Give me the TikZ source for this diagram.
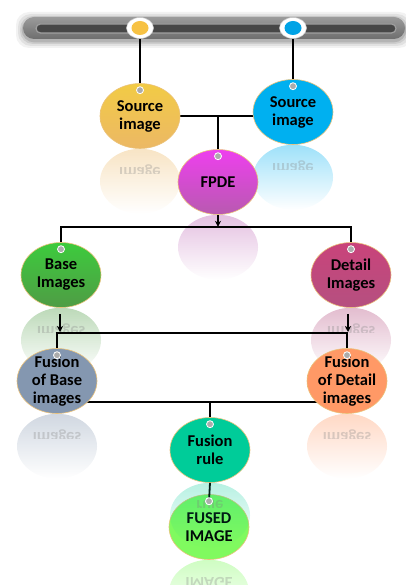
\documentclass[tikz,border=0pt]{standalone}
\usepackage{fontspec}
\setmainfont{Carlito}
\usetikzlibrary{shapes.geometric,arrows.meta,fadings,calc}

\definecolor{srcAtop}{HTML}{F2CB45}
\definecolor{srcAbot}{HTML}{ECB865}
\definecolor{srcB}{HTML}{00B0F0}
\definecolor{fpdeTop}{HTML}{EE3FEE}
\definecolor{fpdeBot}{HTML}{B85AB0}
\definecolor{baseTop}{HTML}{3DCB3D}
\definecolor{baseBot}{HTML}{4F9C45}
\definecolor{detTop}{HTML}{C9437A}
\definecolor{detBot}{HTML}{B55080}
\definecolor{fbaseCol}{HTML}{8497B0}
\definecolor{fdetCol}{HTML}{FF9966}
\definecolor{ruleCol}{HTML}{00CC99}
\definecolor{fusedCol}{HTML}{80FA5F}
\definecolor{rim}{HTML}{EBC27A}
\definecolor{railA}{HTML}{9B9B9B}
\definecolor{railB}{HTML}{4F4F4F}
\definecolor{railC}{HTML}{6E6E6E}
\definecolor{pinYellow}{HTML}{F7C244}
\definecolor{pinBlue}{HTML}{00A3E6}

\tikzfading[name=reflfade, top color=transparent!62, middle color=transparent!100, bottom color=transparent!100]

\pgfdeclarelayer{back}
\pgfdeclarelayer{front}
\pgfsetlayers{back,main,front}

% a coloured disc with its text and the small hanging hole
\newcommand\Bubble[5]{%
  \node[bubble, top color=#3, bottom color=#4] (#1) at (#2) {};
  \node[bubtext] (#1-t) at (#1.center) {#5};
  \node[hole] (#1-h) at ([yshift=-7pt]#1.north) {};}

% faded mirror image under a disc
\newcommand\Mirror[3]{%
  \fill[#2, path fading=reflfade] ($(#1.south)+(0,32.5)$) ellipse [x radius=40pt, y radius=32.5pt];
  \begin{scope}
    \clip ($(#1.south)+(-40,0)$) rectangle ($(#1.south)+(40,25)$);
    \node[bubtext, text=gray, opacity=0.3, yscale=-1] at ($(#1.south)+(0,23)$) {#3};
  \end{scope}}

\begin{document}
\begin{tikzpicture}[x=1pt,y=-1pt,
  bubble/.style={ellipse, minimum width=80pt, minimum height=65pt, inner sep=0pt,
    draw=rim, line width=0.6pt},
  bubtext/.style={align=center, inner sep=0pt, text=black,
    font=\fontsize{16.5}{18}\selectfont\bfseries},
  hole/.style={circle, minimum size=7pt, inner sep=0pt, fill=gray!65, draw=white, line width=0.8pt},
  railpin/.style={ellipse, minimum width=27pt, minimum height=21pt, inner sep=0pt,
    fill=white, draw=gray!45, line width=0.5pt,
    path picture={\fill[#1] (path picture bounding box.center) ellipse [x radius=8.5pt, y radius=7pt];}},
  wire/.style={line width=1.8pt, black},
  tipwire/.style={wire, -{Stealth[length=6pt,width=6pt]}},
]
\useasboundingbox (0,0) rectangle (406,585);

% rail at the top
\foreach \s/\o in {7/0.05,5/0.07,3/0.09,1.5/0.12}
  \fill[black, opacity=\o, rounded corners=13pt] (23-\s,17-\s+2) rectangle (405+\s,39+\s+2);
\shade[rounded corners=11pt, top color=railA, middle color=railB, bottom color=railC]
  (23,17) rectangle (405,39);
\draw[line width=1.2pt, draw=gray!75, fill=railB!90!black, rounded corners=4.5pt]
  (36,24) rectangle (396,33);
\node[railpin=pinYellow] (pinA) at (140,28) {};
\node[railpin=pinBlue] (pinB) at (293,28) {};

% discs
\Bubble{src1}{140,116}{srcAtop}{srcAbot}{Source\\image}
\Bubble{src2}{293,112}{srcB}{srcB}{Source\\image}
\Bubble{fpde}{218,182}{fpdeTop}{fpdeBot}{FPDE}
\Bubble{base}{61,275}{baseTop}{baseBot}{Base\\Images}
\Bubble{detail}{351,275}{detTop}{detBot}{Detail\\Images}
\Bubble{fbase}{57,381}{fbaseCol}{fbaseCol}{Fusion\\of Base\\images}
\Bubble{fdetail}{347,381}{fdetCol}{fdetCol}{Fusion\\of Detail\\images}
\Bubble{rule}{210,450}{ruleCol}{ruleCol}{Fusion\\rule}
\Bubble{fused}{209,527}{fusedCol}{fusedCol}{FUSED\\IMAGE}

\begin{pgfonlayer}{back}
  \Mirror{src1}{srcAbot}{image}
  \Mirror{src2}{srcB}{image}
  \Mirror{fpde}{fpdeBot}{}
  \Mirror{base}{baseBot}{Images}
  \Mirror{detail}{detBot}{Images}
  \Mirror{fbase}{fbaseCol}{images}
  \Mirror{fdetail}{fdetCol}{images}
  \Mirror{fused}{fusedCol}{IMAGE}

  % connectors
  \draw[wire] (pinA.center) -- (src1-h.center);
  \draw[wire] (pinB.center) -- (src2-h.center);
  \draw[wire] (src1.center) -- (src2.center |- src1.center);
  \coordinate (j1) at (fpde.north |- src1.center);
  \draw[wire] (j1) -- (fpde-h.center);

  \coordinate (bus1) at ($(fpde.south)+(0,12)$);
  \draw[tipwire] (fpde.south) -- (bus1);
  \draw[wire] (base-h.center) |- (bus1) -| (detail-h.center);

  \coordinate (bus2) at (202,333);
  \draw[tipwire] ($(base.south)+(-1,6)$) -- ($(base.south |- bus2)+(-1,-1)$);
  \draw[tipwire] ($(detail.south)+(-3,6)$) -- ($(detail.south |- bus2)+(-3,-1)$);
  \draw[wire] (fbase-h.center) |- (bus2) -| (fdetail-h.center);

  \coordinate (bus3) at ($(fbase.center)+(0,21)$);
  \draw[wire] (bus3) -- (fdetail.center |- bus3);
  \draw[wire] (rule-h.center |- bus3) -- (rule-h.center);
\end{pgfonlayer}

\begin{pgfonlayer}{front}
  \begin{scope}[opacity=0.75]
    \Mirror{rule}{ruleCol}{rule}
  \end{scope}
  \draw[wire, black!85!ruleCol] (rule.south) -- (fused-h.center);
  \node[hole] at (fused-h) {};
\end{pgfonlayer}
\end{tikzpicture}
\end{document}
